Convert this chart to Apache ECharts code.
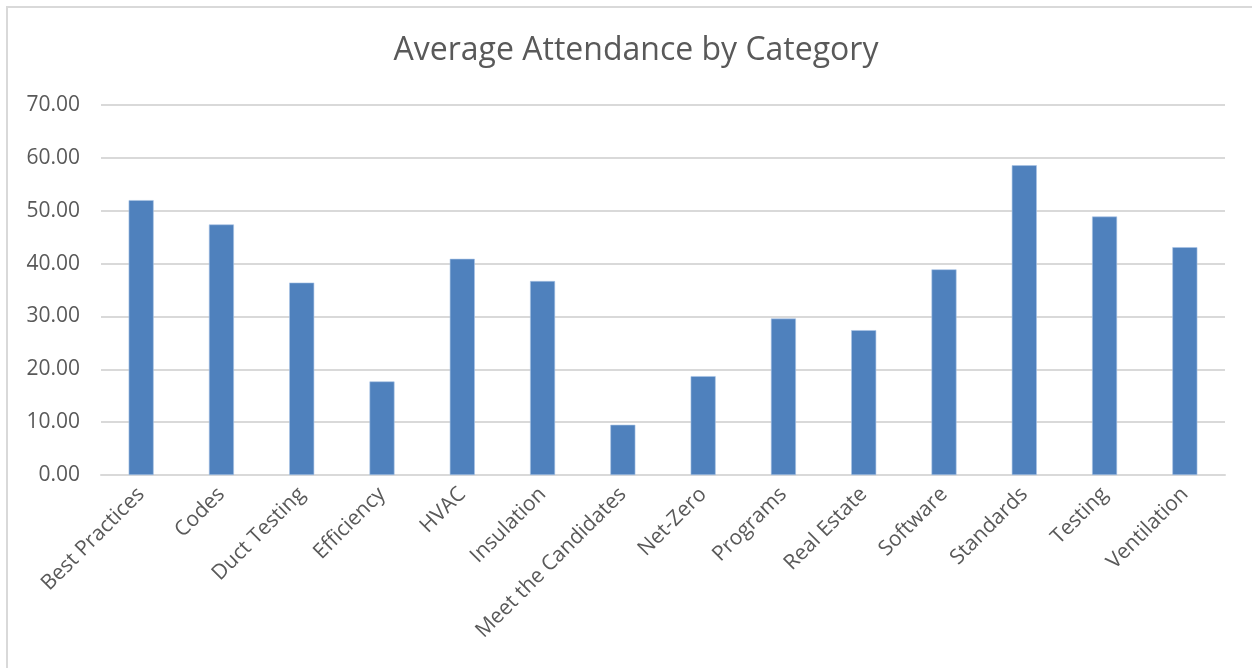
<!DOCTYPE html>
<html>
<head>
<meta charset="utf-8">
<script src="https://cdn.jsdelivr.net/npm/echarts@6/dist/echarts.min.js"></script>
<style>
  html, body { margin: 0; padding: 0; background: #ffffff; }
  #frame { position: absolute; left: 6px; top: 6px; width: 1260px; height: 680px; border: 2px solid #d9d9d9; box-sizing: border-box; }
  #chart { position: absolute; left: 0; top: 0; width: 1252px; height: 668px; }
</style>
</head>
<body>
<div id="frame"></div>
<div id="chart"></div>
<script>
const categories = ["Best Practices", "Codes", "Duct Testing", "Efficiency", "HVAC", "Insulation", "Meet the Candidates", "Net-Zero", "Programs", "Real Estate", "Software", "Standards", "Testing", "Ventilation"];
const averageAttendance = [52.0, 47.4, 36.4, 17.7, 40.9, 36.7, 9.5, 18.7, 29.6, 27.4, 38.9, 58.6, 48.9, 43.1];
const yTicks = { min: 0, max: 70, interval: 10 };
const chartTitle = "Average Attendance by Category";

const FONT = "'Open Sans', 'Noto Sans', sans-serif";
const chart = echarts.init(document.getElementById('chart'), null, { renderer: 'canvas' });
chart.setOption({
  backgroundColor: 'transparent',
  animation: false,
  title: {
    text: chartTitle,
    left: 631, top: 30, textAlign: 'center',
    textStyle: { fontFamily: FONT, fontSize: 32, fontWeight: 'normal', color: '#595959' }
  },
  grid: { left: 101, right: 27, top: 105, bottom: 193, containLabel: false },
  xAxis: {
    type: 'category',
    data: categories,
    axisLine: { show: true, lineStyle: { color: '#d9d9d9', width: 2 } },
    axisTick: { show: false },
    axisLabel: { rotate: 45, interval: 0, margin: 16, fontFamily: FONT, fontSize: 21, color: '#595959' }
  },
  yAxis: {
    type: 'value',
    min: yTicks.min, max: yTicks.max, interval: yTicks.interval,
    axisLine: { show: false },
    axisTick: { show: false },
    splitLine: { lineStyle: { color: '#d9d9d9', width: 2 } },
    axisLabel: { margin: 21, fontFamily: FONT, fontSize: 21, color: '#595959', formatter: v => v.toFixed(2) }
  },
  series: [{
    type: 'bar',
    data: averageAttendance,
    barWidth: 25,
    itemStyle: { color: '#4f81bd', borderColor: '#a9c4e6', borderWidth: 0.6 }
  }]
});
</script>
</body>
</html>
